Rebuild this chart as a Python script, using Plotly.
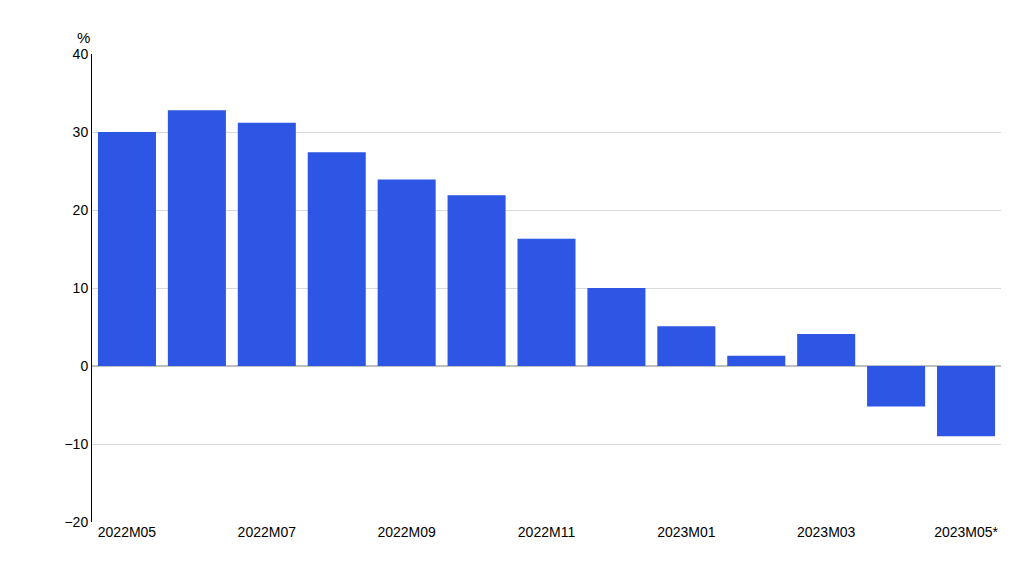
import plotly.graph_objects as go

categories = ["2022M05","2022M06","2022M07","2022M08","2022M09","2022M10","2022M11","2022M12","2023M01","2023M02","2023M03","2023M04","2023M05*"]
values = [30.0, 32.8, 31.2, 27.4, 23.9, 21.9, 16.3, 10.0, 5.1, 1.3, 4.1, -5.2, -9.0]
tick_labels = categories[::2]

fig = go.Figure(go.Bar(x=categories, y=values, marker_color="#2c56e3", marker_line_width=0))
fig.update_layout(
    width=1024, height=579, plot_bgcolor="white", paper_bgcolor="white",
    margin=dict(l=84, r=31, t=46, b=65), bargap=0.17, showlegend=False,
    font=dict(family="Liberation Sans, Arial", size=14, color="black"),
)
fig.update_xaxes(tickvals=tick_labels, ticktext=tick_labels, showgrid=False, ticks="", tickfont=dict(size=14))
fig.update_yaxes(range=[-20, 40], dtick=10, gridcolor="#d9d9d9", gridwidth=1, zeroline=True,
                 zerolinecolor="#bfbfbf", showline=True, linecolor="black", linewidth=1,
                 ticks="", tickfont=dict(size=14))
fig.add_annotation(text="%", xref="paper", yref="paper", x=0, y=1, xanchor="right", yanchor="bottom",
                   yshift=6, showarrow=False, font=dict(size=15))
fig.write_html("out.html")
